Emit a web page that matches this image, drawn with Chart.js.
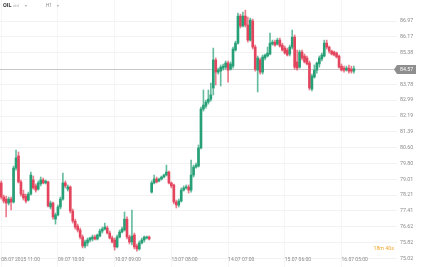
<!DOCTYPE html>
<html><head><meta charset="utf-8">
<script src="https://cdn.jsdelivr.net/npm/chart.js@4"></script>
<style>html,body{margin:0;padding:0;background:#fff;overflow:hidden}#wrap{position:relative;width:425px;height:267px}</style>
</head><body><div id="wrap"><canvas id="c" width="425" height="267"></canvas></div>
<script>
const symbol = "OIL";
const symbolSub = "cfd";
const interval = "H1";
const countdown = "18m 40s";
const lastPrice = 84.57;
const tickLabels = ["08.07 2025 11:00","09.07 10:00","10.07 09:00","13.07 08:00","14.07 07:00","15.07 06:00","16.07 05:00"];
const tickIndex = [0,23,46,69,92,115,138];
const yTicks = [86.97,86.17,85.38,83.78,82.99,82.19,81.39,80.60,79.80,79.01,78.21,77.41,76.62,75.82,75.02];

const open = [
78.82,78.11,78.01,77.81,78.01,77.86,79.57,80.18,78.87,78.26,
78.16,77.96,78.26,78.97,78.67,78.51,78.77,78.97,78.82,78.87,
77.61,77.81,77.00,77.21,77.61,78.01,78.82,78.51,78.62,77.41,
76.90,76.65,76.45,76.10,75.65,75.80,75.95,76.00,76.10,76.00,
76.15,76.40,76.50,76.55,76.30,76.05,75.95,75.60,76.10,76.35,
76.45,77.00,76.10,75.85,76.20,75.65,75.50,75.80,75.95,76.05,
76.10,78.36,78.82,79.02,78.92,79.02,79.12,79.22,79.37,78.82,
78.72,77.86,77.71,77.91,78.46,78.57,78.62,78.46,79.22,79.62,
79.67,80.58,82.54,82.69,82.89,83.04,83.60,85.01,84.40,84.45,
84.60,84.65,84.86,84.55,84.70,85.51,85.86,87.22,86.72,87.22,
86.77,86.01,86.97,85.66,84.50,85.01,84.40,85.11,85.21,85.31,
85.81,85.91,85.81,86.01,85.76,85.61,85.51,85.31,85.66,86.16,
84.91,84.65,85.41,85.21,85.11,84.86,83.55,84.15,84.50,84.81,
85.06,85.21,85.86,85.66,85.46,85.41,85.36,85.21,84.70,84.60,
84.50,84.60,84.55,84.45];
const high = [
78.92,78.21,78.16,78.11,78.11,79.67,80.48,80.38,78.97,78.46,
78.26,78.36,79.37,79.17,78.77,78.92,79.12,79.07,78.97,78.92,
77.91,77.86,77.31,77.71,78.11,79.32,78.92,78.72,78.67,77.51,
77.00,76.75,76.55,76.20,75.95,76.05,76.10,76.20,76.20,76.25,
76.50,76.60,76.80,76.65,76.40,76.15,76.05,76.20,76.45,76.60,
77.36,77.11,76.20,77.46,76.30,75.75,75.90,76.05,76.15,76.15,
76.15,78.92,79.22,79.12,79.07,79.17,79.27,79.72,79.42,78.87,
78.77,77.96,78.01,78.57,78.67,78.72,78.72,79.97,79.72,79.82,
80.73,82.64,83.50,82.99,83.50,83.85,85.61,85.11,84.60,84.76,
84.81,84.96,84.96,84.91,85.66,85.96,87.37,87.32,87.42,87.52,
87.17,87.12,87.07,85.76,85.21,85.11,85.26,85.31,85.66,86.37,
86.01,86.01,86.11,86.11,85.86,85.71,85.61,85.76,86.52,86.27,
85.51,85.51,85.51,85.31,85.21,84.96,84.30,84.76,84.91,85.21,
85.36,86.01,86.01,85.71,85.51,85.46,85.41,85.26,84.81,84.70,
84.70,84.76,84.70,84.70];
const low = [
78.01,77.81,77.11,77.71,77.46,77.81,79.47,78.82,78.16,77.96,
77.81,77.91,78.21,78.51,78.36,78.46,78.67,78.77,78.77,77.61,
77.51,77.00,76.75,77.16,77.51,77.96,78.57,78.41,77.31,76.80,
76.50,76.35,76.00,75.55,75.55,75.65,75.85,75.90,75.95,75.95,
76.10,76.30,76.45,76.25,76.00,75.80,75.44,75.55,76.05,76.30,
76.40,76.00,75.75,75.70,75.50,75.39,75.44,75.75,75.85,76.00,
75.95,78.31,78.77,78.82,78.87,78.97,79.07,79.17,78.77,78.57,
77.76,77.56,77.61,77.86,78.41,78.51,78.31,78.36,79.12,79.57,
79.62,80.53,82.44,82.59,82.79,82.94,83.25,83.75,84.30,83.70,
84.50,84.55,83.90,84.50,84.60,85.46,85.81,86.62,86.67,86.67,
85.91,85.96,85.56,84.45,83.40,84.30,84.30,85.01,85.16,85.26,
85.76,85.71,85.76,85.66,85.46,85.31,85.21,85.21,85.56,84.55,
84.50,84.60,85.01,84.86,84.76,83.50,83.45,84.10,84.35,84.65,
84.96,85.16,85.56,85.36,85.26,85.21,85.11,84.60,84.45,84.40,
84.45,84.35,84.35,84.35];
const close = [
78.11,77.91,77.81,78.01,77.86,79.57,80.08,78.87,78.26,78.06,
77.91,78.26,79.22,78.57,78.46,78.82,78.97,78.82,78.92,77.66,
77.81,77.11,77.21,77.61,78.01,78.82,78.67,78.62,77.41,76.90,
76.60,76.45,76.10,75.65,75.85,75.95,76.05,76.10,76.00,76.20,
76.40,76.50,76.60,76.30,76.05,75.85,75.60,76.10,76.35,76.50,
77.00,76.10,75.85,76.15,75.60,75.50,75.80,75.95,76.10,76.10,
76.00,78.82,79.02,78.87,79.02,79.12,79.22,79.37,78.82,78.67,
77.86,77.71,77.91,78.46,78.57,78.62,78.46,79.22,79.62,79.72,
80.58,82.54,82.74,82.89,83.04,83.25,85.01,84.40,84.50,84.65,
84.70,84.86,84.50,84.81,85.56,85.86,87.22,86.72,87.22,86.77,
86.01,87.02,85.66,84.55,85.11,84.40,85.16,85.26,85.36,85.86,
85.91,85.76,86.01,85.71,85.51,85.36,85.26,85.66,86.16,84.65,
84.60,85.41,85.11,84.91,84.81,83.60,84.20,84.50,84.86,85.11,
85.26,85.86,85.66,85.46,85.31,85.26,85.16,84.65,84.50,84.50,
84.60,84.45,84.45,84.57];

const SLOTS = 161;
const labels = Array.from({length: SLOTS}, (_, i) => { const k = tickIndex.indexOf(i); return k >= 0 ? tickLabels[k] : ''; });
const up = open.map((o, i) => close[i] >= o);
const G = '#27a077', R = '#e2455d', WG = 'rgba(39,160,119,0.7)', WR = 'rgba(226,69,93,0.7)';
const bodies = open.map((o, i) => [o, close[i]]);
const wicks = low.map((l, i) => [l, high[i]]);
const FONT = 'Roboto, "Liberation Sans", sans-serif';

const overlay = {
  id: 'overlay',
  beforeDatasetsDraw(chart) {
    const {ctx, chartArea: ca, scales: {y}} = chart;
    const py = Math.round(y.getPixelForValue(lastPrice)) + 0.5;
    ctx.save();
    ctx.strokeStyle = '#c8c8c8'; ctx.lineWidth = 1;
    ctx.beginPath(); ctx.moveTo(ca.left, py); ctx.lineTo(ca.right, py); ctx.stroke();
    ctx.restore();
  },
  afterDraw(chart) {
    const {ctx, chartArea: ca, scales: {y}} = chart;
    const py = Math.round(y.getPixelForValue(lastPrice));
    ctx.save();
    ctx.fillStyle = '#8e8e8e';
    ctx.beginPath();
    ctx.moveTo(ca.right - 3, py + 0.5);
    ctx.lineTo(ca.right, py - 4);
    ctx.lineTo(ca.right + 19, py - 4);
    ctx.lineTo(ca.right + 19, py + 5);
    ctx.lineTo(ca.right, py + 5);
    ctx.closePath(); ctx.fill();
    ctx.fillStyle = '#ffffff';
    ctx.font = '5.3px ' + FONT; ctx.textBaseline = 'middle'; ctx.textAlign = 'left';
    ctx.fillText(lastPrice.toFixed(2), ca.right + 3, py + 0.5);
    ctx.fillStyle = '#f0a830'; ctx.textAlign = 'right';
    ctx.font = '5.3px ' + FONT;
    ctx.fillText(countdown, ca.right - 3, 249);
    ctx.textAlign = 'left';
    ctx.fillStyle = '#333'; ctx.font = 'bold 5.5px ' + FONT;
    ctx.fillText(symbol, 3, 6);
    ctx.fillStyle = '#aaa'; ctx.font = '4px ' + FONT;
    ctx.fillText(symbolSub, 13, 6);
    ctx.fillText('\u25BE', 25, 6);
    ctx.fillStyle = '#888'; ctx.font = '4.5px ' + FONT;
    ctx.fillText(interval, 46, 6);
    ctx.fillStyle = '#aaa'; ctx.font = '4px ' + FONT;
    ctx.fillText('\u25BE', 57, 6);
    ctx.restore();
  }
};

new Chart(document.getElementById('c'), {
  type: 'bar',
  data: { labels, datasets: [
    { data: wicks, backgroundColor: up.map(u => u ? WG : WR), barThickness: 1, grouped: false, order: 2 },
    { data: bodies, backgroundColor: up.map(u => u ? G : R), barThickness: 2, grouped: false, minBarLength: 1, order: 1 }
  ]},
  options: {
    responsive: false, animation: false, devicePixelRatio: 1,
    layout: { padding: 0 },
    plugins: { legend: { display: false }, tooltip: { enabled: false } },
    scales: {
      x: {
        type: 'category', offset: true,
        grid: { color: '#f5f5f5', drawTicks: false, offset: false },
        border: { display: false },
        ticks: { autoSkip: false, mirror: true, maxRotation: 0, minRotation: 0, align: 'start', padding: 4, color: '#8a8a8a', font: { family: FONT, size: 5 } },
        afterBuildTicks(s) { s.ticks = tickIndex.map(v => ({ value: v })); },
        afterFit(s) { s.height = 0; s.paddingLeft = 0; s.paddingRight = 0; }
      },
      y: {
        position: 'right', min: 74.59, max: 88.03,
        grid: { color: '#f2f2f2', drawTicks: false },
        border: { display: false },
        ticks: { padding: 3, color: '#8a8a8a', font: { family: FONT, size: 5.3 }, callback: v => Number(v).toFixed(2) },
        afterBuildTicks(s) { s.ticks = yTicks.map(v => ({ value: v })); },
        afterFit(s) { s.width = 28; s.paddingTop = 0; s.paddingBottom = 0; }
      }
    }
  },
  plugins: [overlay]
});
</script>
</body></html>
